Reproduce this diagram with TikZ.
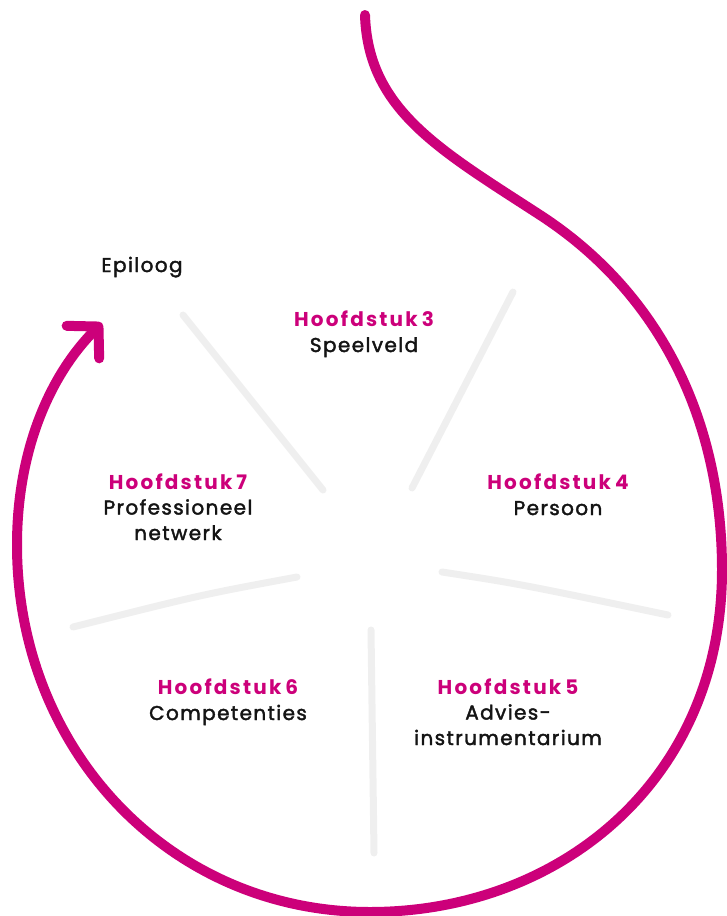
\documentclass[tikz,border=0pt]{standalone}
\usepackage{fontspec}
\setmainfont{Poppins}[LetterSpace=7, UprightFeatures={FakeBold=2}]
\usetikzlibrary{positioning, arrows.meta}

\definecolor{hfdpink}{RGB}{204,0,122}
\definecolor{spokegray}{RGB}{239,239,239}
\definecolor{txtblack}{RGB}{20,20,20}
\newcommand{\kop}[1]{\textcolor{hfdpink}{\bfseries\addfontfeature{LetterSpace=11}Hoofdstuk\hspace{4pt}#1}}

\begin{document}
\begin{tikzpicture}[
                x=1pt, y=-1pt,
                chapter/.style={
                  align=center, inner sep=0pt, anchor=base, text=txtblack,
                  font=\fontsize{20}{25.5}\selectfont
                },
                spoke/.style={draw=spokegray, line width=7pt, line cap=round},
                loop/.style={draw=hfdpink, line width=10pt, line cap=round,
                  -{Straight Barb[length=22pt, width=46pt, round]}}
              ]
              \useasboundingbox (0,0) rectangle (726,916);

              % Chapters (anchored at the baseline of the last line)
              \node (EPI) [chapter] at (142,272) {Epiloog};
              \node (H3) [chapter] at (364,352) {\kop{3}\\Speelveld};
              \node (H4) [chapter] at (558,515) {\kop{4}\\Persoon};
              \node (H7) [chapter] at (178,540) {\kop{7}\\Professioneel\\netwerk};
              \node (H6) [chapter] at (228,720) {\kop{6}\\Competenties};
              \node (H5) [chapter] at (508,745) {\kop{5}\\Advies-\\instrumentarium};

              % Spokes
              \coordinate (c3a) at (183,315); \coordinate (c3b) at (323,490);
              \coordinate (c4a) at (513,292); \coordinate (c4b) at (412,488);
              \coordinate (c5a) at (442,572); \coordinate (c5b) at (668,615);
              \coordinate (c6a) at (371,630); \coordinate (c6b) at (374,853);
              \coordinate (c7a) at (297,577); \coordinate (c7b) at (73,627);
              \draw[spoke] (c3a) -- (c3b);
              \draw[spoke] (c4a) -- (c4b);
              \draw[spoke] (c5a) .. controls (520,584) .. (c5b);
              \draw[spoke] (c6a) -- (c6b);
              \draw[spoke] (c7a) .. controls (200,595) .. (c7b);

              % Draw loop
              \coordinate (start) at (365,15);
              \coordinate (bend) at (540,215);
              \coordinate (right) at (722,570);
              \coordinate (bottom) at (370,912);
              \coordinate (left) at (17,545);
              \coordinate (stop) at (102,323);
              \draw[loop] (start) .. controls (368,110) and (440,150) .. (bend)
                .. controls (660,293) and (722,420) .. (right)
                .. controls (722,780) and (560,912) .. (bottom)
                .. controls (170,912) and (17,750) .. (left)
                .. controls (17,450) and (50,375) .. (stop);

            \end{tikzpicture}
\end{document}
